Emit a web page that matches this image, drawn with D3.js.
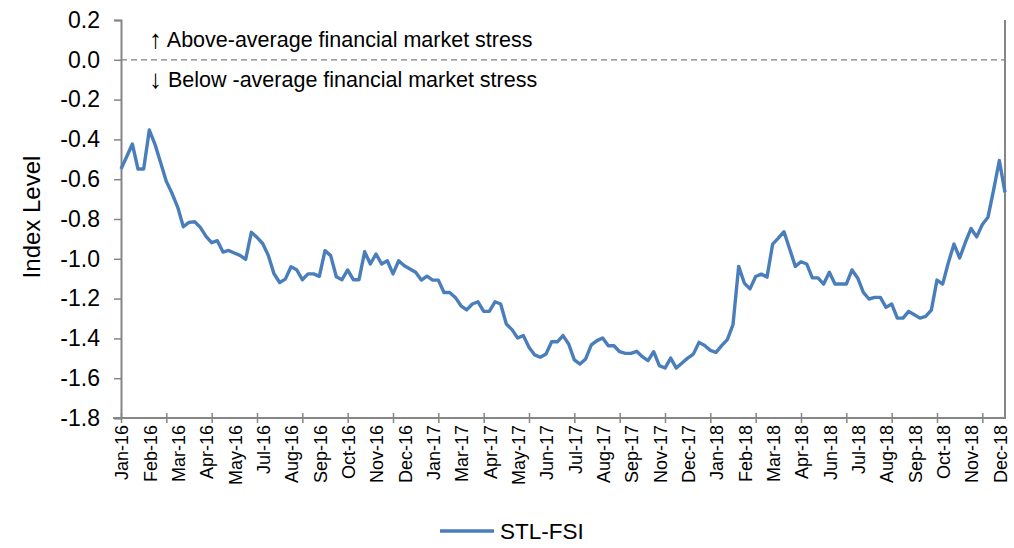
<!DOCTYPE html>
<html>
<head>
<meta charset="utf-8">
<script src="https://cdn.jsdelivr.net/npm/d3@7/dist/d3.min.js"></script>
<style>
  body { margin: 0; background: #fff; }
  text { font-family: "Liberation Sans", Arial, sans-serif; fill: #000; }
</style>
</head>
<body>
<svg id="chart" width="1014" height="548"></svg>
<script>
// ---- data ----
const seriesName = "STL-FSI";
const firstWeek = "2016-01-08";           // weekly observations (Fridays)
const stlFsi = [
  -0.549,-0.487,-0.423,-0.549,-0.549,-0.353,-0.425,-0.517,-0.611,-0.671,
  -0.740,-0.839,-0.817,-0.814,-0.842,-0.887,-0.919,-0.909,-0.966,-0.958,
  -0.971,-0.983,-1.003,-0.867,-0.892,-0.923,-0.983,-1.075,-1.119,-1.102,
  -1.040,-1.055,-1.105,-1.076,-1.076,-1.088,-0.959,-0.984,-1.090,-1.105,
  -1.056,-1.105,-1.105,-0.964,-1.026,-0.976,-1.026,-1.010,-1.076,-1.010,
  -1.035,-1.051,-1.068,-1.107,-1.087,-1.107,-1.107,-1.169,-1.169,-1.194,
  -1.236,-1.257,-1.227,-1.216,-1.264,-1.264,-1.216,-1.227,-1.328,-1.356,
  -1.398,-1.386,-1.445,-1.483,-1.495,-1.478,-1.417,-1.417,-1.386,-1.428,
  -1.508,-1.529,-1.503,-1.433,-1.411,-1.398,-1.437,-1.437,-1.467,-1.475,
  -1.475,-1.465,-1.492,-1.512,-1.467,-1.537,-1.549,-1.499,-1.549,-1.524,
  -1.499,-1.479,-1.420,-1.436,-1.460,-1.470,-1.436,-1.406,-1.331,-1.038,
  -1.122,-1.151,-1.089,-1.077,-1.092,-0.926,-0.896,-0.864,-0.951,-1.038,
  -1.015,-1.026,-1.096,-1.096,-1.127,-1.068,-1.127,-1.127,-1.127,-1.056,
  -1.096,-1.169,-1.202,-1.194,-1.194,-1.244,-1.227,-1.298,-1.298,-1.264,
  -1.281,-1.298,-1.289,-1.258,-1.107,-1.127,-1.020,-0.926,-0.996,-0.918,
  -0.848,-0.890,-0.828,-0.791,-0.652,-0.506,-0.666
];
// category labels shown every 5th week
const xTickLabels = [
  "Jan-16","Feb-16","Mar-16","Apr-16","May-16","Jul-16","Aug-16","Sep-16",
  "Oct-16","Nov-16","Dec-16","Jan-17","Mar-17","Apr-17","May-17","Jun-17",
  "Jul-17","Aug-17","Sep-17","Nov-17","Dec-17","Jan-18","Feb-18","Mar-18",
  "Apr-18","Jun-18","Jul-18","Aug-18","Sep-18","Oct-18","Nov-18","Dec-18"
];
const labelEvery = 5;
const tickMarkEvery = 8;
const yTicks = [0.2, 0.0, -0.2, -0.4, -0.6, -0.8, -1.0, -1.2, -1.4, -1.6, -1.8];
const yDomain = [-1.8, 0.2];
const annotationAbove = ["\u2191", " Above-average financial market stress"];
const annotationBelow = ["\u2193", " Below -average financial market stress"];
const yTitle = "Index Level";

// ---- chart ----
const svg = d3.select("#chart");
const m = { left: 121, right: 1005, top: 20, bottom: 418 };
const axisColor = "#868686";
const lineColor = "#4A7EBB";

const start = d3.isoParse(firstWeek);
const categories = stlFsi.map((_, i) => d3.timeWeek.offset(start, i));

const x = d3.scalePoint().domain(d3.range(categories.length)).range([m.left, m.right]);
const y = d3.scaleLinear().domain(yDomain).range([m.bottom, m.top]);

// zero reference line
svg.append("line")
  .attr("x1", m.left).attr("x2", m.right)
  .attr("y1", y(0)).attr("y2", y(0))
  .attr("stroke", "#808080").attr("stroke-width", 1.3)
  .attr("stroke-dasharray", "6,4");

// y axis
const yAxis = svg.append("g")
  .attr("transform", `translate(${m.left},0)`)
  .call(d3.axisLeft(y).tickValues(yTicks).tickSize(7).tickPadding(14)
    .tickFormat(d => d.toFixed(1)));
yAxis.select(".domain").attr("stroke", axisColor).attr("stroke-width", 2);
yAxis.selectAll(".tick line").attr("stroke", axisColor).attr("stroke-width", 1.5);
yAxis.selectAll(".tick text").attr("font-size", 23).attr("fill", "#000")
  .style("font-family", '"Liberation Sans", Arial, sans-serif');

// right frame line
svg.append("line")
  .attr("x1", m.right).attr("x2", m.right)
  .attr("y1", m.top).attr("y2", m.bottom)
  .attr("stroke", axisColor).attr("stroke-width", 2);

// x axis
const tickIdx = d3.range(0, categories.length, tickMarkEvery);
const xAxis = svg.append("g")
  .attr("transform", `translate(0,${m.bottom})`)
  .call(d3.axisBottom(x).tickValues(tickIdx).tickSize(5).tickSizeOuter(0).tickFormat(""));
xAxis.select(".domain").attr("stroke", axisColor).attr("stroke-width", 2)
  .attr("d", `M${m.left - 8},0H${m.right + 1}`);
xAxis.selectAll(".tick line").attr("stroke", axisColor).attr("stroke-width", 1.5).attr("y1", -5);

// x labels
const labelIdx = xTickLabels.map((_, k) => k * labelEvery);
svg.append("g").selectAll("text")
  .data(labelIdx)
  .join("text")
  .attr("transform", i => `translate(${x(i) + 1},${m.bottom + 7}) rotate(-90)`)
  .attr("text-anchor", "end")
  .attr("dy", "0.35em")
  .attr("font-size", 18)
  .text((i, k) => xTickLabels[k]);

// series line
svg.append("path")
  .datum(stlFsi)
  .attr("fill", "none")
  .attr("stroke", lineColor)
  .attr("stroke-width", 3.4)
  .attr("stroke-linejoin", "round")
  .attr("d", d3.line().x((d, i) => x(i)).y(d => y(d)));

// annotations
[[annotationAbove, 47], [annotationBelow, 87]].forEach(([parts, yy]) => {
  const t = svg.append("text").attr("x", 149).attr("y", yy).attr("font-size", 21.5);
  t.append("tspan").attr("font-size", 26).attr("dy", 1).text(parts[0]);
  t.append("tspan").attr("dy", -1).text(parts[1]);
});

// y title
svg.append("text")
  .attr("transform", `translate(40,${(m.top + m.bottom) / 2 - 2}) rotate(-90)`)
  .attr("text-anchor", "middle")
  .attr("font-size", 24)
  .text(yTitle);

// legend
const lg = svg.append("g").attr("transform", "translate(440,531)");
lg.append("line").attr("x1", 0).attr("x2", 54).attr("stroke", lineColor).attr("stroke-width", 3.4);
lg.append("text").attr("x", 60).attr("dy", "0.35em").attr("font-size", 22.5).text(seriesName);
</script>
</body>
</html>
